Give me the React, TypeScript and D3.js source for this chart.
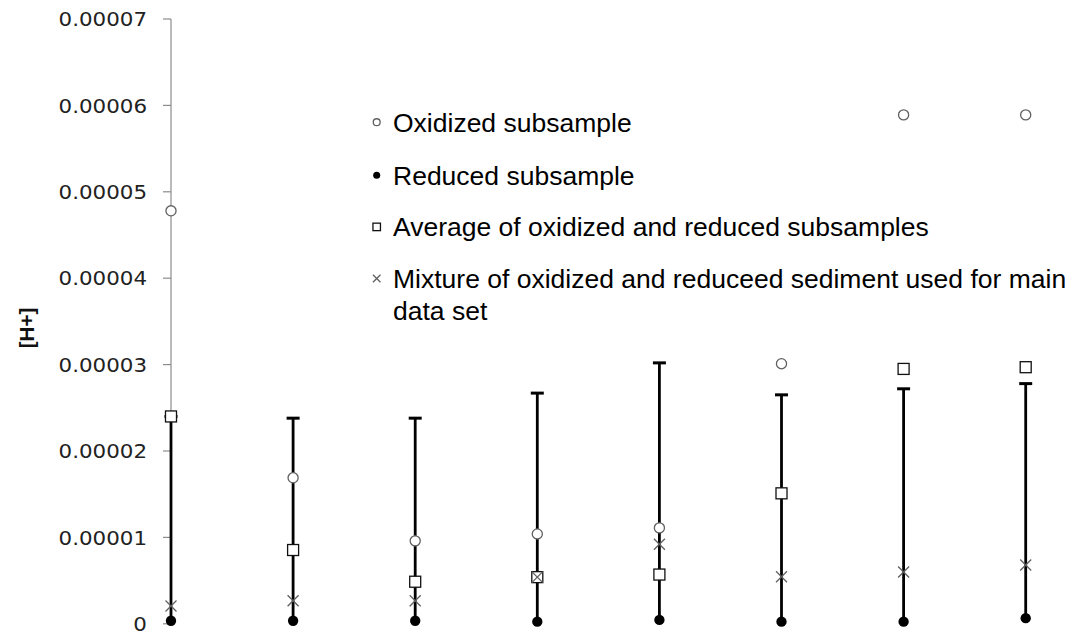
import React from "react";
import * as d3 from "d3";

// Sample positions along the horizontal axis (unlabelled in the figure)
const samples = [1, 2, 3, 4, 5, 6, 7, 8];

// [H+] concentrations per sample
const oxidized = [4.78e-5, 1.69e-5, 0.96e-5, 1.04e-5, 1.11e-5, 3.01e-5, 5.89e-5, 5.89e-5];
const reduced = [3.5e-7, 3.5e-7, 3.5e-7, 2.5e-7, 4.5e-7, 2.5e-7, 2.5e-7, 6.5e-7];
const average = [2.4e-5, 0.854e-5, 0.487e-5, 0.54e-5, 0.57e-5, 1.51e-5, 2.95e-5, 2.97e-5];
const mixture = [0.206e-5, 0.267e-5, 0.267e-5, 0.54e-5, 0.92e-5, 0.545e-5, 0.6e-5, 0.68e-5];
// Upper end of the range bar drawn from the reduced value
const rangeTop = [2.4e-5, 2.38e-5, 2.38e-5, 2.67e-5, 3.02e-5, 2.65e-5, 2.72e-5, 2.78e-5];

const yTicks = [0, 0.00001, 0.00002, 0.00003, 0.00004, 0.00005, 0.00006, 0.00007];
const yTickLabels = ["0", "0.00001", "0.00002", "0.00003", "0.00004", "0.00005", "0.00006", "0.00007"];

const legendItems = [
  { key: "oxidized", lines: ["Oxidized subsample"] },
  { key: "reduced", lines: ["Reduced subsample"] },
  { key: "average", lines: ["Average of oxidized and reduced subsamples"] },
  { key: "mixture", lines: ["Mixture of oxidized and reduceed sediment used for main", "data set"] },
];

const W = 1078;
const H = 634;

const x = d3.scaleLinear().domain([1, 8]).range([171, 1025.7]);
const y = d3.scaleLinear().domain([0, 0.00007]).range([623.8, 19]);

function Marker({ kind, cx, cy, s }: { kind: string; cx: number; cy: number; s: number }) {
  if (kind === "oxidized") {
    return <circle cx={cx} cy={cy} r={s * 0.46} fill="#fff" stroke="#606060" strokeWidth={1.3} />;
  }
  if (kind === "reduced") {
    return <circle cx={cx} cy={cy} r={s * 0.47} fill="#000" />;
  }
  if (kind === "average") {
    const h = s / 2;
    return (
      <rect x={cx - h} y={cy - h} width={s} height={s} fill="#fff" stroke="#111" strokeWidth={1.3} />
    );
  }
  const h = s * 0.5;
  return (
    <g stroke="#606060" strokeWidth={1.3}>
      <line x1={cx - h} y1={cy - h} x2={cx + h} y2={cy + h} />
      <line x1={cx - h} y1={cy + h} x2={cx + h} y2={cy - h} />
    </g>
  );
}

export default function App() {
  const series: { kind: string; values: number[] }[] = [
    { kind: "oxidized", values: oxidized },
    { kind: "average", values: average },
    { kind: "mixture", values: mixture },
    { kind: "reduced", values: reduced },
  ];
  const legendX = 376.7;
  const textX = 393;
  const baselines = [131.7, 184.7, 236.4, 288];

  return (
    <svg
      width={W}
      height={H}
      style={{ position: "absolute", left: 0, top: 0, background: "#fff" }}
      fontFamily="'Liberation Sans', Arial, sans-serif"
    >
      <rect width={W} height={H} fill="#fff" />

      {/* value axis */}
      <line x1={x(1)} x2={x(1)} y1={y(0.00007)} y2={y(0)} stroke="#8c8c8c" strokeWidth={1.2} />
      {yTicks.map((t, i) => (
        <g key={i}>
          <line x1={x(1) - 8} x2={x(1)} y1={y(t)} y2={y(t)} stroke="#8c8c8c" strokeWidth={1.2} />
          <text
            transform={`translate(147,${y(t) + 7.2}) scale(1.07,1)`}
            textAnchor="end"
            fontFamily="'DejaVu Sans', Verdana, sans-serif"
            fontSize={20}
            fill="#222"
          >
            {yTickLabels[i]}
          </text>
        </g>
      ))}
      <text
        transform={`translate(34,${328}) rotate(-90)`}
        textAnchor="middle"
        fontWeight="bold"
        fontSize={20.5}
        fill="#111"
      >
        [H+]
      </text>

      {/* range bars */}
      {samples.map((s, i) => (
        <g key={`bar${i}`} stroke="#000">
          <line x1={x(s)} x2={x(s)} y1={y(reduced[i])} y2={y(rangeTop[i])} strokeWidth={2.8} />
          <line x1={x(s) - 6.5} x2={x(s) + 6.5} y1={y(rangeTop[i])} y2={y(rangeTop[i])} strokeWidth={3} />
        </g>
      ))}

      {/* markers */}
      {series.map((ser) =>
        ser.values.map((v, i) => (
          <Marker key={`${ser.kind}${i}`} kind={ser.kind} cx={x(samples[i])} cy={y(v)} s={11} />
        ))
      )}

      {/* legend */}
      {legendItems.map((item, i) => (
        <g key={item.key}>
          <Marker kind={item.key} cx={legendX} cy={baselines[i] - 9.5} s={7.5} />
          {item.lines.map((ln, j) => (
            <text key={j} x={textX} y={baselines[i] + j * 31.7} fontSize={26.5} fill="#000">
              {ln}
            </text>
          ))}
        </g>
      ))}
    </svg>
  );
}
